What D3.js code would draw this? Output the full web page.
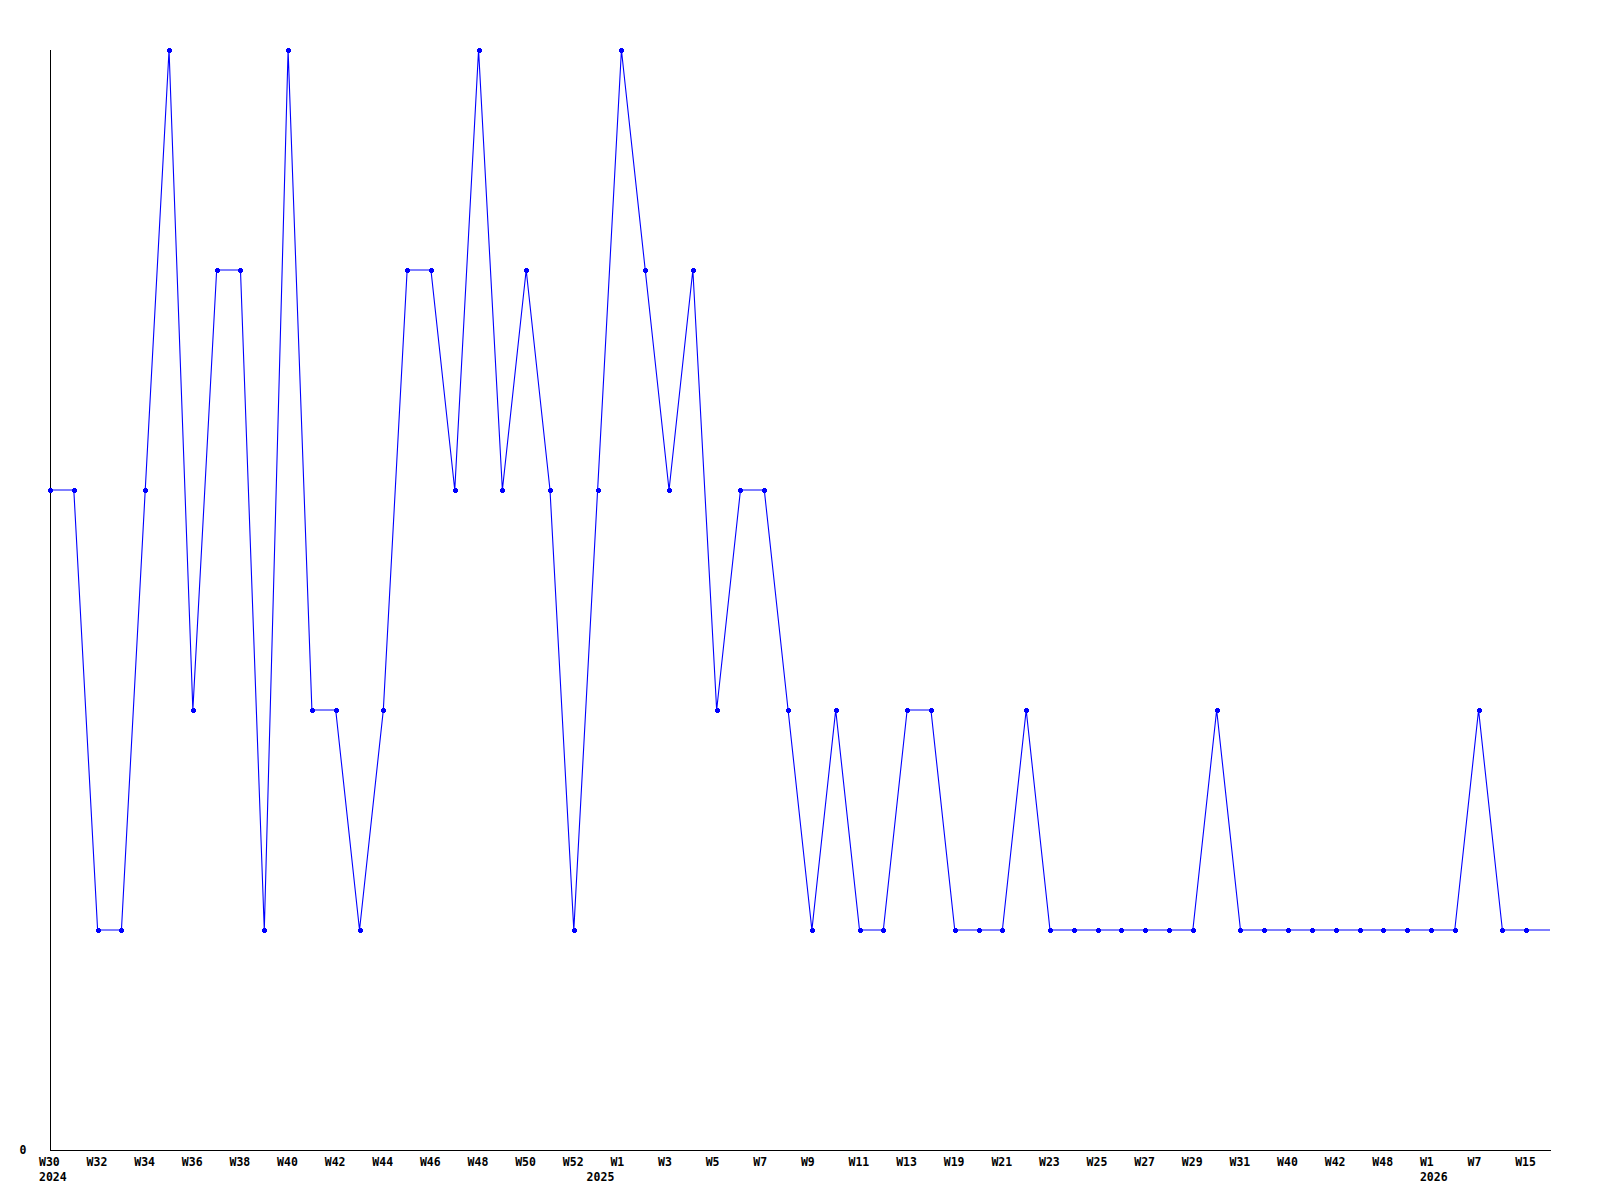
<!DOCTYPE html>
<html>
<head>
<meta charset="utf-8">
<script src="https://cdn.jsdelivr.net/npm/d3@7"></script>
<style>
  html, body { margin: 0; padding: 0; background: #fff; }
  svg { display: block; }
  text { font-family: "DejaVu Sans Mono", monospace; font-weight: bold; font-size: 11.5px; fill: #000; }
</style>
</head>
<body>
<svg id="chart" width="1600" height="1200"></svg>
<script>
// ---- data ----
const values = [3,3,1,1,3,5,2,4,4,1,5,2,2,1,2,4,4,3,5,3,4,3,1,3,5,4,3,4,2,3,3,2,1,2,1,1,2,2,1,1,1,2,1,1,1,1,1,1,1,2,1,1,1,1,1,1,1,1,1,1,2,1,1,1];
const tickIndex  = [0,2,4,6,8,10,12,14,16,18,20,22,24,26,28,30,32,34,36,38,40,42,44,46,48,50,52,54,56,58,60,62];
const tickLabels = ["W30","W32","W34","W36","W38","W40","W42","W44","W46","W48","W50","W52","W1","W3","W5","W7","W9","W11","W13","W19","W21","W23","W25","W27","W29","W31","W40","W42","W48","W1","W7","W15"];
const yearIndex  = [0,23,58];
const yearLabels = ["2024","2025","2026"];
const yTickValues = [0];

// ---- layout ----
const svg = d3.select("#chart");
const mLeft = 50, mRight = 1550, mTop = 50, mBottom = 1150;
const x = d3.scaleLinear().domain([0, values.length - 1]).range([mLeft, mRight]);
const y = d3.scaleLinear().domain([0, 5]).range([mBottom, mTop]);

// axes lines
svg.append("line").attr("x1", mLeft + 0.5).attr("x2", mLeft + 0.5).attr("y1", mTop).attr("y2", mBottom + 0.5)
  .attr("stroke", "#000").attr("shape-rendering", "crispEdges");
svg.append("line").attr("x1", mLeft).attr("x2", mRight + 1).attr("y1", mBottom + 0.5).attr("y2", mBottom + 0.5)
  .attr("stroke", "#000").attr("shape-rendering", "crispEdges");

// y label
svg.selectAll("text.ylab").data(yTickValues).join("text").attr("class", "ylab")
  .attr("x", 19.5).attr("y", d => y(d) + 4).text(d => d);

// x tick labels
svg.selectAll("text.xlab").data(tickIndex).join("text").attr("class", "xlab")
  .attr("x", d => x(d) - 11).attr("y", 1166).text((d, i) => tickLabels[i]);
svg.selectAll("text.yr").data(yearIndex).join("text").attr("class", "yr")
  .attr("x", d => x(d) - 11).attr("y", 1181).text((d, i) => yearLabels[i]);

// line
const line = d3.line().x((d, i) => x(i)).y(d => y(d));
svg.append("path").datum(values).attr("d", line)
  .attr("fill", "none").attr("stroke", "#0000ff").attr("stroke-width", 1.1);

// markers (last point has none)
const marker = "M-1.5,-2.5h3v1h1v3h-1v1h-3v-1h-1v-3h1z";
svg.selectAll("path.mk").data(values.slice(0, values.length - 1)).join("path").attr("class", "mk")
  .attr("transform", (d, i) => `translate(${Math.round(x(i)) + 0.5},${Math.round(y(d)) + 0.5})`)
  .attr("d", marker).attr("fill", "#0000ff").attr("shape-rendering", "crispEdges");
</script>
</body>
</html>
